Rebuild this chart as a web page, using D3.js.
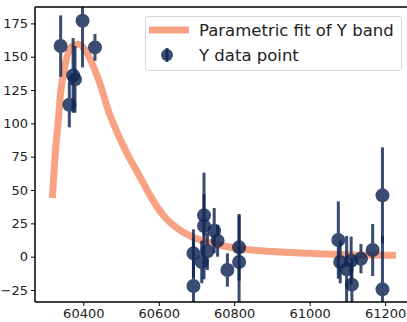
<!DOCTYPE html>
<head>
  <meta charset="utf-8">
  <title>Y band fit</title>
  <style>
    body { margin: 0; background: #fff; }
    text { font-family: 'DejaVu Sans', sans-serif; }
  </style>
</head>
<body>
  <script src="https://cdn.jsdelivr.net/npm/d3@7"></script>
  <script>
    // data points (MJD, value, error)
    var pointX = [60340, 60363, 60373, 60378, 60398, 60431,
      60692, 60692, 60714, 60720, 60720, 60729, 60747, 60756, 60782, 60813, 60813,
      61076, 61081, 61098, 61110, 61112, 61136, 61167, 61193, 61193];
    var pointY = [158, 114, 136, 133, 177, 157,
      -22, 2.5, -4, 31, 23, 4, 19.5, 12, -10, 7, -4,
      12.5, -4, -9.5, -3, -21, -1.5, 5, 46, -24.5];
    var pointErr = [23, 17, 28, 25, 35, 10,
      36, 18, 16, 16, 40, 14, 17, 12, 12.5, 25, 35,
      29, 16, 25, 18, 20, 11, 19.5, 36, 40];

    // fit curve
    var fitX = [60318, 60322, 60327, 60334, 60338, 60351, 60369, 60387, 60405, 60427,
      60444, 60466, 60490, 60515, 60550, 60577, 60612, 60656, 60701, 60749, 60802,
      60900, 61001, 61097, 61229];
    var fitY = [44, 62, 82, 102.5, 117.5, 142.5, 157.5, 159.3, 155, 142.5,
      130, 110, 93, 78, 60, 46, 31, 20, 13.5, 9.5, 6.5,
      3.8, 2.5, 1.5, 1];

    var xTicks = [60400, 60600, 60800, 61000, 61200];
    var yTicks = [-25, 0, 25, 50, 75, 100, 125, 150, 175];

    function makeChart() {
      var W = 407, H = 322;
      var m = { left: 35, right: 410, top: 7, bottom: 302 };

      var x = d3.scaleLinear().domain([60272, 61266]).range([m.left, m.right]);
      var y = d3.scaleLinear().domain([-34, 187.3]).range([m.bottom, m.top]);

      var svg = d3.select("body").append("svg")
        .attr("width", W)
        .attr("height", H);

      svg.append("defs").append("clipPath").attr("id", "plot")
        .append("rect").attr("x", m.left).attr("y", m.top)
        .attr("width", m.right - m.left).attr("height", m.bottom - m.top);

      var plot = svg.append("g").attr("clip-path", "url(#plot)");

      // fit line
      var line = d3.line()
        .x(function (d, i) { return x(fitX[i]); })
        .y(function (d, i) { return y(fitY[i]); })
        .curve(d3.curveMonotoneX);

      plot.append("path")
        .datum(fitX)
        .attr("d", line)
        .attr("fill", "none")
        .attr("stroke", "#f7a383")
        .attr("stroke-width", 7);

      // error bars and points
      var pts = plot.selectAll(".pt")
        .data(pointX)
        .enter().append("g")
        .attr("class", "pt")
        .attr("opacity", 0.82);

      pts.append("line")
        .attr("x1", function (d) { return x(d); })
        .attr("x2", function (d) { return x(d); })
        .attr("y1", function (d, i) { return y(pointY[i] + pointErr[i]); })
        .attr("y2", function (d, i) { return y(pointY[i] - pointErr[i]); })
        .attr("stroke", "#0f2553")
        .attr("stroke-width", 3);

      pts.append("circle")
        .attr("cx", function (d) { return x(d); })
        .attr("cy", function (d, i) { return y(pointY[i]); })
        .attr("r", 7)
        .attr("fill", "#0f2553");

      // axes
      var xAxis = svg.append("g")
        .attr("transform", "translate(0," + m.bottom + ")")
        .call(d3.axisBottom(x).tickValues(xTicks).tickSize(4).tickPadding(3).tickFormat(d3.format("d")));
      var yAxis = svg.append("g")
        .attr("transform", "translate(" + m.left + ",0)")
        .call(d3.axisLeft(y).tickValues(yTicks).tickSize(4).tickPadding(3)
          .tickFormat(function (d) { return d < 0 ? "\u2212" + Math.abs(d) : d; }));

      [xAxis, yAxis].forEach(function (a) {
        a.select(".domain").remove();
        a.selectAll("line").attr("stroke", "#000").attr("stroke-width", 1);
        a.selectAll("text").style("font-size", "13px").attr("fill", "#222");
      });

      // spines
      svg.append("line").attr("x1", m.left).attr("x2", m.left).attr("y1", m.top).attr("y2", m.bottom)
        .attr("stroke", "#000").attr("stroke-width", 1.5);
      svg.append("line").attr("x1", m.left).attr("x2", W).attr("y1", m.bottom).attr("y2", m.bottom)
        .attr("stroke", "#000").attr("stroke-width", 1.5);
      svg.append("line").attr("x1", m.left).attr("x2", W).attr("y1", m.top).attr("y2", m.top)
        .attr("stroke", "#000").attr("stroke-width", 1.5);

      // legend
      var lg = svg.append("g");
      lg.append("rect")
        .attr("x", 145.5).attr("y", 16.5).attr("width", 256).attr("height", 54)
        .attr("rx", 3)
        .attr("fill", "#fff").attr("fill-opacity", 0.8)
        .attr("stroke", "#d6d6d6");
      lg.append("line")
        .attr("x1", 149).attr("x2", 189).attr("y1", 30).attr("y2", 30)
        .attr("stroke", "#f7a383").attr("stroke-width", 7);
      lg.append("line")
        .attr("x1", 167).attr("x2", 167).attr("y1", 48).attr("y2", 62)
        .attr("stroke", "#0f2553").attr("stroke-width", 3).attr("opacity", 0.82);
      lg.append("circle")
        .attr("cx", 167).attr("cy", 55).attr("r", 6)
        .attr("fill", "#0f2553").attr("opacity", 0.82);
      lg.append("text").attr("x", 199).attr("y", 36)
        .style("font-size", "16.5px").attr("fill", "#222")
        .text("Parametric fit of Y band");
      lg.append("text").attr("x", 199).attr("y", 61)
        .style("font-size", "16.5px").attr("fill", "#222")
        .text("Y data point");
    }
    makeChart();
  </script>
</body>
